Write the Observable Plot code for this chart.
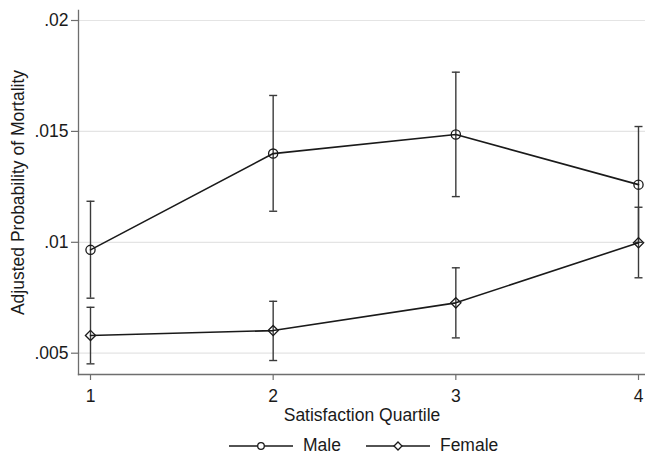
<!DOCTYPE html>
<html>
<head>
<meta charset="utf-8">
<script src="https://cdn.jsdelivr.net/npm/d3@7"></script>
<script src="https://cdn.jsdelivr.net/npm/@observablehq/plot@0.6"></script>
<style>
  html, body { margin: 0; padding: 0; background: #fff; }
  body { width: 645px; height: 455px; overflow: hidden; font-family: "Liberation Sans", Arial, sans-serif; }
  #chart { height: 430px; }
  #chart svg { display: block; }
  #legend { box-sizing: border-box; display: flex; align-items: center; height: 25px; padding-top: 7px; padding-left: 229px; font-size: 17.5px; line-height: 1; color: #1a1a1a; }
  #legend .item { display: flex; align-items: center; height: 18px; }
  #legend svg { display: block; }
</style>
</head>
<body>
<div id="chart"></div>
<div id="legend"></div>
<script>
const quartiles = [1, 2, 3, 4];
const maleEst = [0.00966, 0.0140, 0.01486, 0.0126];
const maleLo  = [0.00748, 0.0114, 0.01206, 0.0100];
const maleHi  = [0.01185, 0.01662, 0.01767, 0.01522];
const femaleEst = [0.0058, 0.00602, 0.00727, 0.00998];
const femaleLo  = [0.00452, 0.00467, 0.00569, 0.0084];
const femaleHi  = [0.00707, 0.00734, 0.00885, 0.01158];
const seriesNames = ["Male", "Female"];
const yTicks = [0.005, 0.01, 0.015, 0.02];
const yTickLabels = [".005", ".01", ".015", ".02"];
const xTicks = [1, 2, 3, 4];

const rows = [];
quartiles.forEach((q, i) => {
  rows.push({q, series: "Male", est: maleEst[i], lo: maleLo[i], hi: maleHi[i]});
  rows.push({q, series: "Female", est: femaleEst[i], lo: femaleLo[i], hi: femaleHi[i]});
});

const capSymbol = {
  draw(context, size) {
    const w = Math.sqrt(size / Math.PI);
    context.moveTo(-w, 0);
    context.lineTo(w, 0);
  }
};

const axisColor = "#6e6e6e";
const barColor = "#3a3a3a";
const lineColor = "#1a1a1a";
const textColor = "#1a1a1a";

const chart = Plot.plot({
  width: 645,
  height: 430,
  marginLeft: 78,
  marginRight: 0,
  marginTop: 10,
  marginBottom: 56,
  style: {fontFamily: "'Liberation Sans', Arial, sans-serif", fontSize: "17.5px", color: textColor, background: "#fff"},
  x: {domain: [1, 4], range: [90, 638]},
  y: {domain: [0.005, 0.02], range: [352.7, 20]},
  marks: [
    Plot.gridY(yTicks, {stroke: "#e4e4e4", strokeOpacity: 1, strokeWidth: 1.2}),
    Plot.frame({anchor: "left", stroke: axisColor, strokeWidth: 1.3}),
    Plot.frame({anchor: "bottom", stroke: axisColor, strokeWidth: 1.3}),
    Plot.axisY({
      ticks: yTicks,
      tickFormat: d => yTickLabels[yTicks.indexOf(d)],
      tickSize: 7, tickPadding: 3, stroke: axisColor, strokeWidth: 1.2,
      fontSize: 17.5, fill: textColor,
      label: "Adjusted Probability of Mortality", labelAnchor: "center", labelOffset: 67, labelArrow: "none"
    }),
    Plot.axisX({
      ticks: xTicks, tickFormat: d => String(d),
      tickSize: 6, tickPadding: 9, stroke: axisColor, strokeWidth: 1.2,
      fontSize: 17.5, fill: textColor,
      label: "Satisfaction Quartile", labelAnchor: "center", labelOffset: 46, labelArrow: "none"
    }),
    Plot.ruleX(rows, {x: "q", y1: "lo", y2: "hi", stroke: barColor, strokeWidth: 1.4}),
    Plot.dot(rows, {x: "q", y: "lo", symbol: capSymbol, r: 4, stroke: barColor, strokeWidth: 1.4}),
    Plot.dot(rows, {x: "q", y: "hi", symbol: capSymbol, r: 4, stroke: barColor, strokeWidth: 1.4}),
    Plot.line(rows, {x: "q", y: "est", z: "series", stroke: lineColor, strokeWidth: 1.6}),
    Plot.dot(rows.filter(d => d.series === seriesNames[0]), {x: "q", y: "est", symbol: "circle", r: 4.6, stroke: lineColor, strokeWidth: 1.3, fill: "none"}),
    Plot.dot(rows.filter(d => d.series === seriesNames[1]), {x: "q", y: "est", symbol: "diamond2", r: 4.6, stroke: lineColor, strokeWidth: 1.3, fill: "none"})
  ]
});
document.getElementById("chart").appendChild(chart);

// legend
const legend = document.getElementById("legend");
seriesNames.forEach((name, i) => {
  const item = document.createElement("div");
  item.className = "item";
  item.style.marginRight = i === 0 ? "25px" : "0";
  const svgNS = "http://www.w3.org/2000/svg";
  const svg = document.createElementNS(svgNS, "svg");
  svg.setAttribute("width", 64); svg.setAttribute("height", 14);
  const ln = document.createElementNS(svgNS, "line");
  ln.setAttribute("x1", 0); ln.setAttribute("x2", 64); ln.setAttribute("y1", 7); ln.setAttribute("y2", 7);
  ln.setAttribute("stroke", lineColor); ln.setAttribute("stroke-width", 1.6);
  svg.appendChild(ln);
  let m;
  if (i === 0) {
    m = document.createElementNS(svgNS, "circle");
    m.setAttribute("cx", 32); m.setAttribute("cy", 7); m.setAttribute("r", 3.3);
  } else {
    m = document.createElementNS(svgNS, "path");
    m.setAttribute("d", "M32,3 L36,7 L32,11 L28,7 Z");
  }
  m.setAttribute("fill", "#fff"); m.setAttribute("stroke", lineColor); m.setAttribute("stroke-width", 1.3);
  svg.appendChild(m);
  item.appendChild(svg);
  const t = document.createElement("span");
  t.textContent = name;
  t.style.marginLeft = "10px";
  item.appendChild(t);
  legend.appendChild(item);
});
</script>
</body>
</html>
